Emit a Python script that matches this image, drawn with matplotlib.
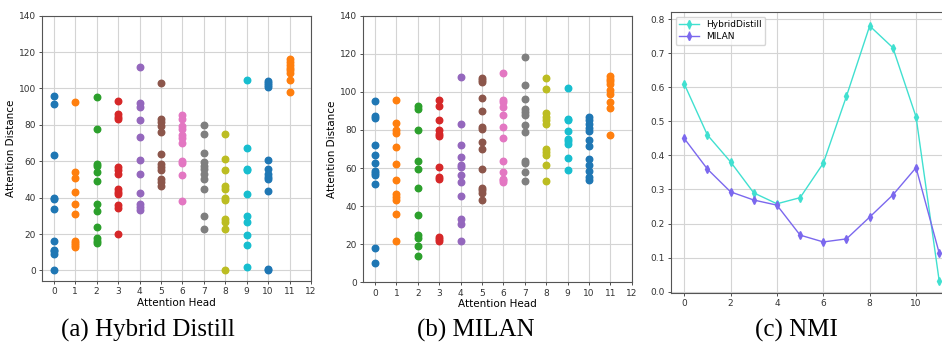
import numpy as np
import matplotlib.pyplot as plt

# attention distance per head
hybrid_heads = [
    [96, 91.5, 63.5, 40, 39, 34, 16, 11.5, 10.5, 9, 0],
    [92.5, 54, 51, 43, 36.5, 31, 16, 15, 14, 13],
    [95.5, 78, 58.5, 57.5, 54, 49, 36.5, 32.5, 24, 18, 16, 15],
    [93, 86, 84.5, 83, 57, 55, 53, 45, 43, 42, 36, 34.5, 20],
    [112, 92, 90, 82.5, 73.5, 60.5, 53, 42.5, 36.5, 35, 33],
    [103, 83, 81.5, 79.5, 76, 64, 58.5, 57, 55, 50, 48.5, 46.5],
    [85.5, 83.5, 79.5, 78, 74.5, 73, 70, 60, 59, 52.5, 38],
    [80, 75, 64.5, 59.5, 57.5, 56, 53, 50, 44.5, 30, 22.5],
    [75, 61, 55, 46.5, 44.5, 40, 38.5, 28, 26.5, 22.5, 0],
    [104.5, 67.5, 56, 55, 42, 30, 26.5, 19.5, 14, 2],
    [104, 103, 102, 101, 60.5, 55.5, 53, 51.5, 50.5, 43.5, 1, 0],
    [116, 114.5, 113, 111.5, 110, 108.5, 104.5, 98],
]

milan_heads = [
    [95, 87.5, 86.5, 72, 67, 62.5, 58.5, 57.5, 56.5, 51.5, 18, 10],
    [95.5, 83.5, 80, 78.5, 71, 62, 53.5, 46.5, 45, 43, 36, 21.5],
    [92.5, 91, 80, 63.5, 59.5, 49.5, 35.5, 25, 23.5, 19, 14],
    [95.5, 92.5, 85, 80, 78, 77, 60.5, 55.5, 54.5, 24, 22.5, 21.5],
    [108, 83, 72, 66, 61.5, 60.5, 56.5, 52.5, 45.5, 33.5, 30.5, 21.5],
    [107.5, 106, 105, 97, 90, 81.5, 80.5, 73.5, 70, 59.5, 49.5, 48.5, 47, 43],
    [110, 95.5, 94.5, 92, 88, 81.5, 76, 63.5, 58, 54.5, 53.5, 52.5],
    [118.5, 103.5, 96, 91, 89.5, 88, 82.5, 79, 63.5, 62.5, 58, 53],
    [107.5, 101.5, 89, 87, 85, 83, 70, 68.5, 67, 61.5, 53],
    [102, 86, 85, 79.5, 75.5, 74, 72.5, 65.5, 59],
    [87, 85, 83, 81, 79.5, 74.5, 71.5, 64.5, 61.5, 58.5, 55.5, 53.5],
    [108.5, 107, 105.5, 104, 101, 99, 94.5, 91.5, 77.5],
]

nmi_layers = list(range(12))
nmi_hybrid = [0.610, 0.460, 0.381, 0.290, 0.258, 0.276, 0.377, 0.574, 0.780, 0.716, 0.513, 0.031]
nmi_milan = [0.450, 0.360, 0.293, 0.269, 0.254, 0.166, 0.146, 0.155, 0.219, 0.284, 0.364, 0.113]
nmi_err = [0.008] * 12

captions = ["(a) Hybrid Distill", "(b) MILAN", "(c) NMI"]

fig = plt.figure(figsize=(9.42, 3.46), dpi=100)
ax_a = fig.add_axes([0.0446, 0.1879, 0.2855, 0.7667])
ax_b = fig.add_axes([0.3857, 0.1841, 0.2849, 0.7705])
ax_c = fig.add_axes([0.7123, 0.1540, 0.2983, 0.8105])

tick_fs = 6.5


def style(ax):
    ax.grid(True, color="#d4d4d4", linewidth=0.8)
    ax.set_axisbelow(True)
    for sp in ax.spines.values():
        sp.set_color("#555555")
        sp.set_linewidth(0.8)
    ax.tick_params(labelsize=tick_fs, length=2.5, width=0.6, colors="#333333", pad=2)


for ax, heads, ylow in [(ax_a, hybrid_heads, -5.8), (ax_b, milan_heads, 0)]:
    for h, vals in enumerate(heads):
        ax.scatter([h] * len(vals), vals, s=22, zorder=3)
    ax.set_xlim(-0.55, 12)
    ax.set_ylim(ylow, 140)
    ax.set_xticks(range(13))
    ax.set_yticks(range(0, 141, 20))
    ax.set_xlabel("Attention Head", fontsize=7.5, labelpad=1)
    ax.set_ylabel("Attention Distance", fontsize=7.5, labelpad=2)
    style(ax)

ax_c.errorbar(nmi_layers, nmi_hybrid, yerr=nmi_err, color="turquoise", marker="d",
              markersize=4, linewidth=1, elinewidth=1, label="HybridDistill")
ax_c.errorbar(nmi_layers, nmi_milan, yerr=nmi_err, color="mediumslateblue", marker="d",
              markersize=4, linewidth=1, elinewidth=1, label="MILAN")
ax_c.set_xlim(-0.57, 11.55)
ax_c.set_ylim(-0.003, 0.82)
ax_c.set_xticks(range(0, 11, 2))
ax_c.set_yticks(np.arange(0, 0.81, 0.1))
style(ax_c)
ax_c.legend(loc="upper left", fontsize=6.5, framealpha=0.8, borderpad=0.4,
            handlelength=2.2, labelspacing=0.3)

for x, txt in zip([0.157, 0.505, 0.846], captions):
    fig.text(x, 0.045, txt, ha="center", va="center", fontsize=18,
             family="Liberation Serif")

fig.savefig("out.png", dpi=100)
